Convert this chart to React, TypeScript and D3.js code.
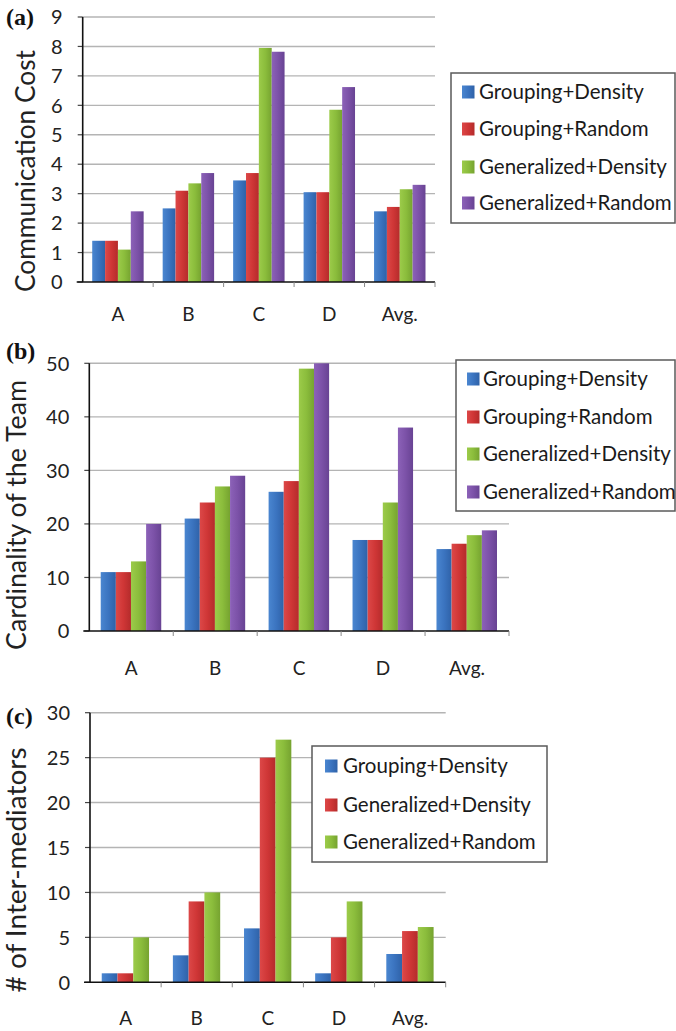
import React from "react";
import * as d3 from "d3";

const categories = ["A", "B", "C", "D", "Avg."];

// Panel (a): Communication Cost
const seriesA = ["Grouping+Density", "Grouping+Random", "Generalized+Density", "Generalized+Random"];
const costGroupingDensity = [1.4, 2.5, 3.45, 3.05, 2.4];
const costGroupingRandom = [1.4, 3.1, 3.7, 3.05, 2.55];
const costGeneralizedDensity = [1.1, 3.35, 7.95, 5.85, 3.15];
const costGeneralizedRandom = [2.4, 3.7, 7.82, 6.62, 3.3];

// Panel (b): Cardinality of the Team
const seriesB = ["Grouping+Density", "Grouping+Random", "Generalized+Density", "Generalized+Random"];
const cardGroupingDensity = [11, 21, 26, 17, 15.3];
const cardGroupingRandom = [11, 24, 28, 17, 16.3];
const cardGeneralizedDensity = [13, 27, 49, 24, 17.9];
const cardGeneralizedRandom = [20, 29, 50, 38, 18.8];

// Panel (c): # of Inter-mediators
const seriesC = ["Grouping+Density", "Generalized+Density", "Generalized+Random"];
const interGroupingDensity = [1, 3, 6, 1, 3.15];
const interGeneralizedDensity = [1, 9, 25, 5, 5.7];
const interGeneralizedRandom = [5, 10, 27, 9, 6.15];

const ticksA = [0, 1, 2, 3, 4, 5, 6, 7, 8, 9];
const ticksB = [0, 10, 20, 30, 40, 50];
const ticksC = [0, 5, 10, 15, 20, 25, 30];

const palette4 = ["blue", "red", "green", "purple"];
const palette3 = ["blue", "red", "green"];

const baseColors: Record<string, [string, string, string]> = {
  blue: ["#4a86d0", "#3b74c0", "#2f62a8"],
  red: ["#dc4848", "#cf3636", "#b42b2b"],
  green: ["#9ccb4a", "#8bbd3c", "#76a330"],
  purple: ["#8c62b8", "#7c52a8", "#684393"],
};

const FONT = "Lato, 'Open Sans', sans-serif";

type Layout = {
  x0: number; x1: number; yTop: number; y0: number;
  inner: [number, number];
  label: string; labelY: number;
  catY: number;
  title: string; titleX: number; titleY: number; titleLen: number;
  legend: { x: number; y: number; w: number; h: number; rows: number[]; sq: number; tx: number };
};

function Panel({ values, series, colors, ticks, lay }: {
  values: number[][]; series: string[]; colors: string[]; ticks: number[]; lay: Layout;
}) {
  const yMax = ticks[ticks.length - 1];
  const x = d3.scaleBand<string>().domain(categories).range([lay.x0, lay.x1]).padding(0);
  const bw = x.bandwidth();
  const xs = d3.scaleBand<string>().domain(series).range([bw * lay.inner[0], bw * lay.inner[1]]).padding(0);
  const y = d3.scaleLinear().domain([0, yMax]).range([lay.y0, lay.yTop]);
  const L = lay.legend;
  return (
    <g>
      <text x={6} y={lay.labelY} fontFamily="'Liberation Serif', 'DejaVu Serif', serif" fontWeight="bold" fontSize={24} fill="#111">{lay.label}</text>
      {ticks.map((t) => (
        <g key={t}>
          {t > 0 && <line x1={lay.x0} x2={lay.x1} y1={y(t)} y2={y(t)} stroke="#b4b4b4" strokeWidth={1.4} />}
          <line x1={lay.x0 - 5} x2={lay.x0} y1={y(t)} y2={y(t)} stroke="#444" strokeWidth={1.2} />
          <text x={lay.x0 - 20} y={y(t)} dy="0.36em" textAnchor="end" fontFamily={FONT} fontSize={20} fill="#222">{t}</text>
        </g>
      ))}
      {values.map((vals, si) =>
        vals.map((v, ci) => (
          <rect key={si + "-" + ci}
            x={(x(categories[ci]) as number) + (xs(series[si]) as number)}
            y={y(v)} width={xs.bandwidth()} height={lay.y0 - y(v)}
            fill={`url(#grad-${colors[si]})`} />
        ))
      )}
      <line x1={lay.x0} x2={lay.x0} y1={lay.yTop} y2={lay.y0} stroke="#111" strokeWidth={1.6} />
      <line x1={lay.x0 - 6} x2={lay.x1} y1={lay.y0} y2={lay.y0} stroke="#111" strokeWidth={1.6} />
      {categories.map((c, i) => (
        <line key={"xt" + i} x1={(x(c) as number) + bw} x2={(x(c) as number) + bw} y1={lay.y0} y2={lay.y0 + 5} stroke="#888" strokeWidth={1} />
      ))}
      {categories.map((c) => (
        <text key={"cl" + c} x={(x(c) as number) + bw / 2} y={lay.catY} textAnchor="middle" fontFamily={FONT} fontSize={19} fill="#222">{c}</text>
      ))}
      <text transform={`translate(${lay.titleX},${lay.titleY}) rotate(-90)`} textAnchor="middle" fontFamily={FONT} fontSize={27} fill="#222"
        textLength={lay.titleLen} lengthAdjust="spacingAndGlyphs">{lay.title}</text>
      <rect x={L.x} y={L.y} width={L.w} height={L.h} fill="#fff" stroke="#5a5a5a" strokeWidth={1.5} />
      {series.map((s, i) => (
        <g key={"lg" + s}>
          <rect x={L.sq} y={L.rows[i] - 6.5} width={12.5} height={13} fill={`url(#grad-${colors[i]})`} />
          <text x={L.tx} y={L.rows[i]} dy="0.36em" fontFamily={FONT} fontSize={20.5} fill="#1a1a1a">{s}</text>
        </g>
      ))}
    </g>
  );
}

export default function App() {
  const layA: Layout = {
    x0: 82.7, x1: 435, yTop: 17, y0: 282, inner: [0.135, 0.865],
    label: "(a)", labelY: 25, catY: 321,
    title: "Communication Cost", titleX: 35, titleY: 171, titleLen: 242,
    legend: { x: 451, y: 73, w: 224, h: 150, rows: [92, 129, 167, 203], sq: 462, tx: 479 },
  };
  const layB: Layout = {
    x0: 89.3, x1: 509, yTop: 363.3, y0: 631, inner: [0.136, 0.857],
    label: "(b)", labelY: 359, catY: 675,
    title: "Cardinality of the Team", titleX: 26, titleY: 515, titleLen: 270,
    legend: { x: 456, y: 360, w: 219, h: 151, rows: [379, 417, 454, 492], sq: 467, tx: 483 },
  };
  const layC: Layout = {
    x0: 90, x1: 445.7, yTop: 712.7, y0: 982.3, inner: [0.165, 0.83],
    label: "(c)", labelY: 724, catY: 1025,
    title: "# of Inter-mediators", titleX: 26, titleY: 870, titleLen: 245,
    legend: { x: 312, y: 746, w: 235, h: 116, rows: [766, 805, 842], sq: 325, tx: 343 },
  };
  return (
    <svg width={676} height={1031} style={{ position: "absolute", left: 0, top: 0, background: "#fff" }}>
      <defs>
        {Object.entries(baseColors).map(([k, c]) => (
          <linearGradient key={k} id={`grad-${k}`} x1="0" x2="1" y1="0" y2="0">
            <stop offset="0%" stopColor={c[0]} />
            <stop offset="50%" stopColor={c[1]} />
            <stop offset="100%" stopColor={c[2]} />
          </linearGradient>
        ))}
      </defs>
      <rect width={676} height={1031} fill="#fff" />
      <Panel values={[costGroupingDensity, costGroupingRandom, costGeneralizedDensity, costGeneralizedRandom]} series={seriesA} colors={palette4} ticks={ticksA} lay={layA} />
      <Panel values={[cardGroupingDensity, cardGroupingRandom, cardGeneralizedDensity, cardGeneralizedRandom]} series={seriesB} colors={palette4} ticks={ticksB} lay={layB} />
      <Panel values={[interGroupingDensity, interGeneralizedDensity, interGeneralizedRandom]} series={seriesC} colors={palette3} ticks={ticksC} lay={layC} />
    </svg>
  );
}
